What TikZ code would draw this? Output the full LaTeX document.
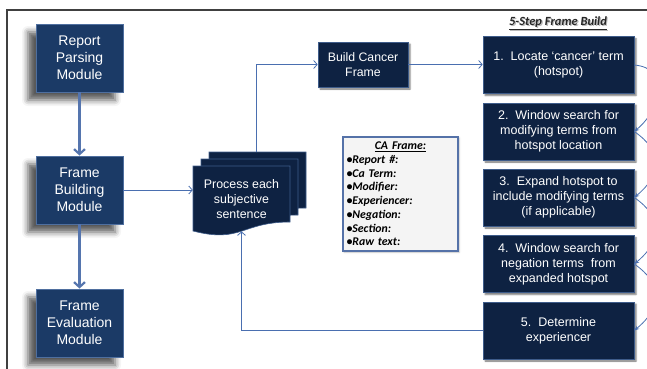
\documentclass[tikz,border=0pt]{standalone}
\usepackage{fontspec}
\setmainfont{Liberation Sans}
\newfontfamily\calfont{Carlito}
\usetikzlibrary{arrows.meta,shadows,shadows.blur}

\definecolor{modfill}{HTML}{1B3A66}
\definecolor{modedge}{HTML}{4F6F9F}
\definecolor{boxfill}{HTML}{0E2242}
\definecolor{boxedge}{HTML}{3E5C8A}
\definecolor{linkblue}{HTML}{4A6FB0}
\definecolor{thickblue}{HTML}{5575AE}
\definecolor{framegray}{HTML}{404040}
\definecolor{cafill}{HTML}{F4F4F4}
\definecolor{caedge}{HTML}{5572A8}

\tikzset{
  module/.style={rectangle, fill=modfill, draw=modedge, line width=0.9pt,
    minimum width=87pt, minimum height=68pt, inner sep=0pt, align=center,
    text=white, font=\fontsize{14}{17}\selectfont,
    blur shadow={shadow xshift=-8pt, shadow yshift=-8pt,
      shadow blur radius=6pt, shadow opacity=65}},
  stepbox/.style={rectangle, fill=boxfill, draw=boxedge, line width=0.6pt,
    minimum width=151pt, minimum height=57pt, inner sep=0pt, align=center,
    text=white, font=\fontsize{12.5}{15}\selectfont,
    blur shadow={shadow xshift=2pt, shadow yshift=-2pt,
      shadow blur radius=1.5pt, shadow opacity=55}},
  docpage/.style={fill=boxfill, draw=boxedge, line width=0.6pt},
  thicklink/.style={draw=thickblue, line width=2.2pt,
    -{Straight Barb[length=5pt,width=11pt]}},
  link/.style={draw=linkblue, line width=0.8pt,
    -{Straight Barb[length=3.5pt,width=8pt]}},
  curvelink/.style={draw=linkblue, line width=0.8pt,
    -{Stealth[length=5pt,width=4pt]}},
}

\begin{document}
\begin{tikzpicture}[x=1pt,y=-1pt]
\useasboundingbox (0,0) rectangle (647,368);
\clip (0,0) rectangle (647,368);

% outer frame
\draw[framegray, line width=1.2pt] (7,380) -- (7,10) -- (660,10);

% module column
\node[module] (rpm) at (79.5,58) {Report\\Parsing\\Module};
\node[module] (fbm) at (79.5,190) {Frame\\Building\\Module};
\node[module] (fem) at (79.5,323) {Frame\\Evaluation\\Module};
\draw[thicklink] (rpm) -- (fbm);
\draw[thicklink] (fbm) -- (fem);

% stack of sentence pages
\foreach \dx/\dy in {16/-14, 8/-7, 0/0}{
  \begin{scope}[shift={(\dx,\dy)}]
    \draw[docpage] (193,166) -- (290,166) -- (290,222)
      .. controls (241.5,222) and (241.5,243.5) .. (193,231) -- cycle;
  \end{scope}
}
\node[text=white, align=center, font=\fontsize{12.4}{15}\selectfont,
  minimum width=97pt, minimum height=65.2pt, inner sep=0pt]
  (proc) at (241.5,198.6) {Process each\\subjective\\sentence};
\coordinate (stacktop) at (256,152);

% frame builder
\node[stepbox, minimum width=90pt, minimum height=45pt,
  font=\fontsize{12.3}{15}\selectfont] (bcf) at (363,64.5) {Build Cancer\\Frame};

% five steps
\node[font=\calfont\bfseries\itshape\fontsize{12.5}{14}\selectfont, text=gray!55]
  at (559.2,24.2) {\underline{5-Step Frame Build}};
\node[font=\calfont\bfseries\itshape\fontsize{12.5}{14}\selectfont, text=black!85]
  (title) at (558,23) {\underline{5-Step Frame Build}};

\node[stepbox] (s1) at (558.5,65)    {1.\ \ Locate ‘cancer’ term\\(hotspot)};
\node[stepbox] (s2) at (558.5,131.5) {2.\ \ Window search for\\modifying terms from\\hotspot location};
\node[stepbox] (s3) at (558.5,197.5) {3.\ \ Expand hotspot to\\include modifying terms\\(if applicable)};
\node[stepbox] (s4) at (558.5,264)   {4.\ \ Window search for\\negation terms\ \ from\\expanded hotspot};
\node[stepbox] (s5) at (558.5,330.5) {5.\ \ Determine\\experiencer};

% frame fields
\node[rectangle, fill=cafill, draw=caedge, line width=1.6pt,
  minimum width=115pt, minimum height=114pt, text width=108pt,
  inner sep=0pt, align=left,
  font=\calfont\bfseries\itshape\fontsize{11.8}{13.7}\selectfont,
  blur shadow={shadow xshift=1pt, shadow yshift=-1pt,
    shadow blur radius=2pt, shadow opacity=25}]
  (caf) at (400.5,194)
  {\makebox[\linewidth][c]{\underline{CA Frame:}}\\
   •Report \#:\\
   •Ca Term:\\
   •Modifier:\\
   •Experiencer:\\
   •Negation:\\
   •Section:\\
   •Raw text:};

% connectors
\draw[link] (fbm.east) -- (fbm.east -| proc.west);
\draw[link] (stacktop) |- (bcf.west);
\draw[link] (bcf.east) -- (bcf.east -| s1.west);
\draw[link] (s5.west) -| (proc.south);

\draw[curvelink] (s1.east) to[out=-5, in=40, looseness=1.4] (s2.east);
\draw[curvelink] (s2.east) to[out=-35, in=40, looseness=1.4] (s3.east);
\draw[curvelink] (s3.east) to[out=-35, in=40, looseness=1.4] (s4.east);
\draw[curvelink] (s4.east) to[out=-35, in=40, looseness=1.4] (s5.east);
\end{tikzpicture}
\end{document}
